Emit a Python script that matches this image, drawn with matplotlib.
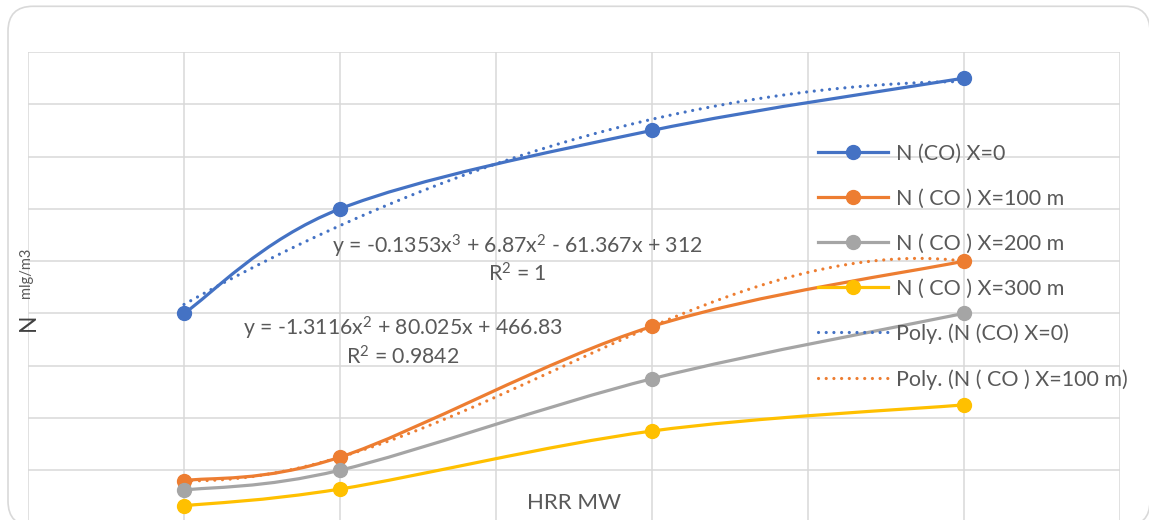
"""CO concentration vs HRR, Excel-style smoothed scatter chart."""
import matplotlib
import matplotlib.pyplot as plt
import numpy as np
from matplotlib.lines import Line2D
from matplotlib.patches import FancyBboxPatch, PathPatch
from matplotlib.path import Path

matplotlib.use("Agg")

W, H = 1149, 520
TXT = "#595959"
GRID = "#d9d9d9"
COLORS = {
    "x0": "#4472C4",
    "x100": "#ED7D31",
    "x200": "#A5A5A5",
    "x300": "#FFC000",
}

hrr = [5, 10, 20, 30]
n_x0 = [400, 600, 750, 850]
n_x100 = [80, 125, 375, 500]
n_x200 = [62, 100, 275, 400]
n_x300 = [32, 64, 175, 225]

labels = [
    "N (CO) X=0",
    "N ( CO ) X=100 m",
    "N ( CO ) X=200 m",
    "N ( CO ) X=300 m",
    "Poly. (N (CO) X=0)",
    "Poly. (N ( CO ) X=100 m)",
]
eq_a = [r"y = -0.1353x$^3$ + 6.87x$^2$ - 61.367x + 312", r"R$^2$ = 1"]
eq_b = [r"y = -1.3116x$^2$ + 80.025x + 466.83", r"R$^2$ = 0.9842"]

plt.rcParams["font.family"] = ["Lato", "DejaVu Sans"]
plt.rcParams["mathtext.fontset"] = "custom"
plt.rcParams["mathtext.rm"] = "Lato"
plt.rcParams["mathtext.it"] = "Lato"
plt.rcParams["mathtext.default"] = "rm"


def px(x, y):
    return x / W, 1 - y / H


def smooth_path(xs, ys):
    # Excel-like smoothing: cubic bezier with Catmull-Rom control points
    p = np.column_stack([xs, ys]).astype(float)
    verts = [p[0]]
    codes = [Path.MOVETO]
    n = len(p)
    for i in range(n - 1):
        p0 = p[max(i - 1, 0)]
        p1 = p[i]
        p2 = p[i + 1]
        p3 = p[min(i + 2, n - 1)]
        verts += [p1 + (p2 - p0) / 6, p2 - (p3 - p1) / 6, p2]
        codes += [Path.CURVE4] * 3
    return Path(verts, codes)


fig = plt.figure(figsize=(W / 100, H / 100), dpi=100)
ax = fig.add_axes([28 / W, (H - 522.5) / H, 1092 / W, 470.5 / H])
ax.set_xlim(0, 35)
ax.set_ylim(0, 900)
ax.set_xticks(np.arange(0, 36, 5))
ax.set_yticks(np.arange(0, 901, 100))
ax.tick_params(length=0, labelbottom=False, labelleft=False)
ax.grid(True, color=GRID, lw=1.1)
ax.set_axisbelow(True)
for s in ax.spines.values():
    s.set_visible(False)

series = [n_x0, n_x100, n_x200, n_x300]
keys = ["x0", "x100", "x200", "x300"]
handles = []
for vals, k in zip(series, keys):
    ax.add_patch(PathPatch(smooth_path(hrr, vals), fill=False, ec=COLORS[k],
                           lw=2.3, capstyle="round", zorder=3, clip_on=False))
    ax.plot(hrr, vals, ls="none", marker="o", ms=10, color=COLORS[k], zorder=4,
            clip_on=False)
    handles.append(Line2D([], [], color=COLORS[k], lw=2.3, marker="o", ms=10))

# polynomial trendlines: order 2 for X=0, order 3 for X=100 m
xf = np.linspace(hrr[0], hrr[-1], 200)
dots = (0, (0.01, 2.4))
for vals, k, deg in [(n_x0, "x0", 2), (n_x100, "x100", 3)]:
    coef = np.polyfit(hrr, vals, deg)
    ax.plot(xf, np.polyval(coef, xf), color=COLORS[k], lw=2.3, ls=dots,
            dash_capstyle="round", zorder=3)
    handles.append(Line2D([], [], color=COLORS[k], lw=2.3, ls=dots,
                          dash_capstyle="round"))

FS = 15.5
fig.legend(handles, labels, loc="upper left", bbox_to_anchor=px(818, 143.5),
           frameon=False, fontsize=FS, labelcolor=TXT, borderpad=0,
           borderaxespad=0, handlelength=3.25, handletextpad=0.37,
           labelspacing=1.16, numpoints=1)

EQ = 15.3
fig.text(*px(517, 246), eq_a[0], ha="center", va="center", fontsize=EQ, color=TXT)
fig.text(*px(517, 274), eq_a[1], ha="center", va="center", fontsize=EQ, color=TXT)
fig.text(*px(403, 328), eq_b[0], ha="center", va="center", fontsize=EQ, color=TXT)
fig.text(*px(403, 357), eq_b[1], ha="center", va="center", fontsize=EQ, color=TXT)

fig.text(*px(574, 503), "HRR MW", ha="center", va="center", fontsize=16, color=TXT)
fig.text(*px(28.5, 322), "N", rotation=90, ha="center", va="center", fontsize=16.5,
         color="#404040")
fig.text(*px(26, 273), "mlg/m3", rotation=90, ha="center", va="center", fontsize=10.5,
         color=TXT)

fig.add_artist(FancyBboxPatch((8, -6), 1142, 519.7,
                              boxstyle="round,pad=0,rounding_size=25",
                              transform=None, fill=False, ec=GRID, lw=1.2))

fig.savefig("out.png", dpi=100)
